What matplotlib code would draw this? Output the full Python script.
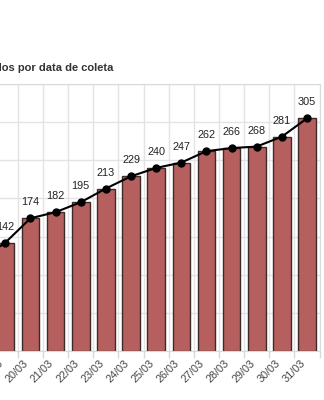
import matplotlib
matplotlib.use("Agg")
import matplotlib.pyplot as plt

plt.rcParams['font.family'] = ['Liberation Sans', 'DejaVu Sans']

# data (18/03 only partly visible at the left edge)
datas = ['18/03', '19/03', '20/03', '21/03', '22/03', '23/03', '24/03',
         '25/03', '26/03', '27/03', '28/03', '29/03', '30/03', '31/03']
casos = [120, 142, 174, 182, 195, 213, 229, 240, 247, 262, 266, 268, 281, 305]
titulo = "Casos confirmados por data de coleta"

W, H = 324, 400
fig = plt.figure(figsize=(W / 100, H / 100), dpi=100)

# plot area is cropped on the left, so the axes start outside the figure
px_left, px_right, px_top, px_bottom = -32.4, 319.6, 84, 351
ax = fig.add_axes([px_left / W, (H - px_bottom) / H,
                   (px_right - px_left) / W, (px_bottom - px_top) / H])

x = list(range(len(datas)))
ax.bar(x, casos, width=0.7, color='#b65f5f', edgecolor='#3d2b2b',
       linewidth=1, zorder=2)
ax.plot(x, casos, color='black', linewidth=1.5, marker='o', markersize=5,
        zorder=3)
for xi, v in zip(x, casos):
    ax.annotate(str(v), (xi, v), xytext=(0, 11.5), textcoords='offset points',
                ha='center', va='center', fontsize=7.8, color='#222222')

ax.set_xlim(-0.5, len(datas) - 0.5)
ax.set_ylim(0, 350)
ax.set_yticks(range(0, 351, 50))
ax.set_yticklabels([])
ax.tick_params(axis='y', length=0)

ax.set_xticks(x)
ax.set_xticklabels(datas, rotation=45, ha='right', fontsize=7.8, color='#444444')
ax.set_xticks([i + 0.5 for i in range(-1, len(datas))], minor=True)
ax.tick_params(axis='x', which='major', length=0, pad=5)
ax.tick_params(axis='x', which='minor', length=5, color='#d9d9d9', width=1)

ax.grid(axis='y', color='#e3e3e3', linewidth=1, zorder=0)
ax.grid(axis='x', which='minor', color='#e3e3e3', linewidth=1, zorder=0)
ax.set_axisbelow(True)
for side in ['top', 'right', 'bottom']:
    ax.spines[side].set_color('#d9d9d9')
ax.spines['left'].set_visible(False)

fig.text(113 / W, (H - 68) / H, titulo, ha='right', va='center',
         fontsize=8, fontweight='bold', color='#333333')

fig.savefig('out.png', dpi=100)
